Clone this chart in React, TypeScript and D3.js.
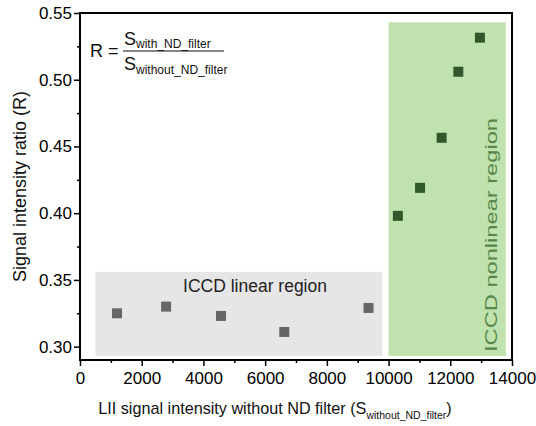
//@ts-nocheck
import * as d3 from "d3";
import { useEffect, useRef } from "react";

// linear-region points (grey)
const linearX = [1200, 2790, 4570, 6620, 9350];
const linearY = [0.325, 0.330, 0.323, 0.311, 0.329];
// nonlinear-region points (green)
const nonlinearX = [10300, 11020, 11720, 12260, 12960];
const nonlinearY = [0.398, 0.419, 0.4565, 0.506, 0.5315];

// shaded regions: [x0, x1, y0, y1]
const linearBox = [500, 9800, 0.293, 0.356];
const nonlinearBox = [10000, 13800, 0.293, 0.543];

const xTicks = [0, 2000, 4000, 6000, 8000, 10000, 12000, 14000];
const yTicks = [0.30, 0.35, 0.40, 0.45, 0.50, 0.55];

const FONT = "Arial, 'Liberation Sans', Helvetica, sans-serif";

const App = () => {
  const ref = useRef(null);

  useEffect(() => {
    ref.current.innerHTML = "";
    const width = 536, height = 426;
    const m = { left: 80, right: 24, top: 13, bottom: 66 };

    const svg = d3.select(ref.current)
      .attr("width", width)
      .attr("height", height)
      .style("font-family", FONT);

    const x = d3.scaleLinear().domain([0, 14000]).range([m.left, width - m.right]);
    const y = d3.scaleLinear().domain([0.29, 0.55]).range([height - m.bottom, m.top]);

    // shaded regions
    const boxes = [
      { b: linearBox, fill: "#e6e6e6" },
      { b: nonlinearBox, fill: "#c0e2ae" }
    ];
    svg.selectAll("rect.box")
      .data(boxes)
      .enter()
      .append("rect")
      .attr("x", d => x(d.b[0]))
      .attr("width", d => x(d.b[1]) - x(d.b[0]))
      .attr("y", d => y(d.b[3]))
      .attr("height", d => y(d.b[2]) - y(d.b[3]))
      .attr("fill", d => d.fill);

    // markers
    const sz = 10;
    svg.selectAll("rect.lin")
      .data(d3.zip(linearX, linearY))
      .enter()
      .append("rect")
      .attr("x", d => x(d[0]) - sz / 2)
      .attr("y", d => y(d[1]) - sz / 2)
      .attr("width", sz)
      .attr("height", sz)
      .attr("fill", "#666666");
    svg.selectAll("rect.nonlin")
      .data(d3.zip(nonlinearX, nonlinearY))
      .enter()
      .append("rect")
      .attr("x", d => x(d[0]) - sz / 2)
      .attr("y", d => y(d[1]) - sz / 2)
      .attr("width", sz)
      .attr("height", sz)
      .attr("fill", "#30582a");

    // axes
    const xAxis = svg.append("g")
      .attr("transform", "translate(0," + (height - m.bottom) + ")")
      .call(d3.axisBottom(x).tickValues(xTicks).tickSize(6).tickFormat(d3.format("d")));
    const xMinor = svg.append("g")
      .attr("transform", "translate(0," + (height - m.bottom) + ")")
      .call(d3.axisBottom(x).tickValues(d3.range(1000, 14000, 2000)).tickSize(3).tickFormat(""));
    const yAxis = svg.append("g")
      .attr("transform", "translate(" + m.left + ",0)")
      .call(d3.axisLeft(y).tickValues(yTicks).tickSize(6).tickFormat(d3.format(".2f")));
    const yMinor = svg.append("g")
      .attr("transform", "translate(" + m.left + ",0)")
      .call(d3.axisLeft(y).tickValues([0.325, 0.375, 0.425, 0.475, 0.525]).tickSize(3).tickFormat(""));

    [xAxis, xMinor, yAxis, yMinor].forEach(g => {
      g.select(".domain").remove();
      g.selectAll("line").attr("stroke", "#000").attr("stroke-width", 1.5);
    });
    xAxis.selectAll("text")
      .attr("font-size", 17)
      .attr("font-family", FONT)
      .attr("fill", "#000")
      .attr("dy", "0.71em")
      .attr("y", 12);
    yAxis.selectAll("text")
      .attr("font-size", 17)
      .attr("font-family", FONT)
      .attr("fill", "#000")
      .attr("x", -8);

    // frame
    svg.append("rect")
      .attr("x", m.left)
      .attr("y", m.top)
      .attr("width", width - m.left - m.right)
      .attr("height", height - m.top - m.bottom)
      .attr("fill", "none")
      .attr("stroke", "#000")
      .attr("stroke-width", 2);

    // y label
    svg.append("text")
      .attr("transform", "translate(26," + (m.top + (height - m.top - m.bottom) / 2) + ") rotate(-90)")
      .attr("text-anchor", "middle")
      .attr("font-size", 18)
      .attr("fill", "#111")
      .text("Signal intensity ratio (R)");

    // x label
    const xl = svg.append("text")
      .attr("x", 275)
      .attr("y", 414)
      .attr("text-anchor", "middle")
      .attr("font-size", 16.2)
      .attr("fill", "#111");
    xl.append("tspan").text("LII signal intensity without ND filter (S");
    xl.append("tspan").attr("font-size", 10.5).attr("dy", 5).text("without_ND_filter");
    xl.append("tspan").attr("dy", -5).text(")");

    // region labels
    svg.append("text")
      .attr("x", 255)
      .attr("y", 292)
      .attr("text-anchor", "middle")
      .attr("font-size", 17.5)
      .attr("fill", "#222")
      .text("ICCD linear region");
    svg.append("text")
      .attr("transform", "translate(497,235) rotate(-90)")
      .attr("text-anchor", "middle")
      .attr("font-size", 16.5)
      .attr("textLength", 234)
      .attr("lengthAdjust", "spacingAndGlyphs")
      .attr("fill", "#56874a")
      .text("ICCD nonlinear region");

    // formula
    const f = svg.append("g").attr("fill", "#111").attr("font-size", 18);
    f.append("text").attr("x", 90).attr("y", 57).text("R =");
    const num = f.append("text").attr("x", 124).attr("y", 45);
    num.append("tspan").text("S");
    num.append("tspan").attr("font-size", 12).attr("dy", 3).text("with_ND_filter");
    f.append("line")
      .attr("x1", 123).attr("x2", 224)
      .attr("y1", 51).attr("y2", 51)
      .attr("stroke", "#111").attr("stroke-width", 1.2);
    const den = f.append("text").attr("x", 124).attr("y", 70);
    den.append("tspan").text("S");
    den.append("tspan").attr("font-size", 12).attr("dy", 4).text("without_ND_filter");
  }, []);

  return (
    <div>
      <svg ref={ref} style={{ position: "absolute", left: 0, top: 0 }}></svg>
    </div>
  );
};

export default App;
